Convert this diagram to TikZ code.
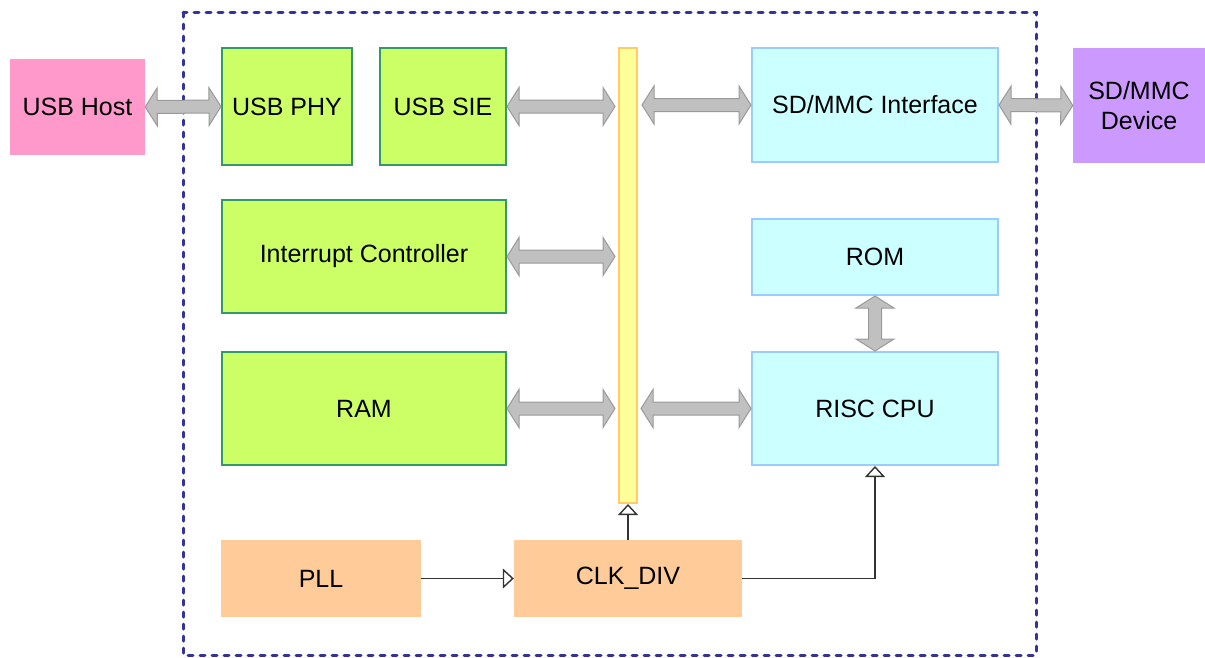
\documentclass[tikz,border=0pt]{standalone}
\usepackage{fontspec}
\setmainfont{Liberation Sans}
\usetikzlibrary{calc,arrows.meta}
\definecolor{hostpink}{HTML}{FF99CC}
\definecolor{devpurple}{HTML}{CC99FF}
\definecolor{gfill}{HTML}{CCFF66}
\definecolor{gline}{HTML}{339966}
\definecolor{cfill}{HTML}{CCFFFF}
\definecolor{cline}{HTML}{99CCFF}
\definecolor{ofill}{HTML}{FFCC99}
\definecolor{busfill}{HTML}{FFFF99}
\definecolor{busline}{HTML}{FFCC66}
\definecolor{afill}{HTML}{C0C0C0}
\definecolor{aline}{HTML}{9A9A9A}
\definecolor{frame}{HTML}{333399}
\tikzset{
  every node/.style={font=\fontsize{25}{30}\selectfont, inner sep=0pt},
  plainbox/.style={rectangle},
  hostbox/.style={plainbox, fill=hostpink},
  devbox/.style={plainbox, fill=devpurple},
  gbox/.style={plainbox, fill=gfill, draw=gline, line width=2pt},
  cbox/.style={plainbox, fill=cfill, draw=cline, line width=2pt},
  obox/.style={plainbox, fill=ofill},
  busbox/.style={plainbox, fill=busfill, draw=busline, line width=2pt},
  fat/.style={fill=afill, draw=aline, line width=1pt, line join=miter},
  clkline/.style={draw=black!80, line width=1.4pt,
    -{Triangle[open, width=20pt, length=11pt, line width=1.4pt]}},
  outline/.style={draw=frame, line width=3pt, line cap=round, dash pattern=on 5pt off 7pt}
}
\newcommand\fatarrow[2]{%
  \path[fat] (#1)
    -- ($(#1)!12pt!(#2)!19pt!90:(#2)$)
    -- ($(#1)!12pt!(#2)!6.5pt!90:(#2)$)
    -- ($(#2)!12pt!(#1)!6.5pt!-90:(#1)$)
    -- ($(#2)!12pt!(#1)!19pt!-90:(#1)$)
    -- (#2)
    -- ($(#2)!12pt!(#1)!19pt!90:(#1)$)
    -- ($(#2)!12pt!(#1)!6.5pt!90:(#1)$)
    -- ($(#1)!12pt!(#2)!6.5pt!-90:(#2)$)
    -- ($(#1)!12pt!(#2)!19pt!-90:(#2)$)
    -- cycle;}
\begin{document}
\begin{tikzpicture}[x=1pt,y=-1pt]
\useasboundingbox (0,0) rectangle (1205,657);
% frame
\path[outline] (183,12) rectangle (1036,655);
% nodes
\node[hostbox, minimum width=135, minimum height=96] (host) at (77.5,107) {USB Host};
\node[gbox, minimum width=130, minimum height=117] (phy) at (287,106.5) {USB PHY};
\node[gbox, minimum width=126, minimum height=117] (sie) at (443,106.5) {USB SIE};
\node[busbox, minimum width=18, minimum height=455] (bus) at (628,275.5) {};
\node[cbox, minimum width=246, minimum height=114] (sdif) at (875,105) {SD/MMC Interface};
\node[devbox, minimum width=132, minimum height=115, align=center] (dev) at (1139,105.5) {SD/MMC\\Device};
\node[gbox, minimum width=284, minimum height=113] (irq) at (364,256.5) {Interrupt Controller};
\node[cbox, minimum width=246, minimum height=76] (rom) at (875,257) {ROM};
\node[gbox, minimum width=284, minimum height=113] (ram) at (364,408.5) {RAM};
\node[cbox, minimum width=246, minimum height=113] (cpu) at (875,408.5) {RISC CPU};
\node[obox, minimum width=200, minimum height=77] (pll) at (321,578.5) {PLL};
\node[obox, minimum width=228, minimum height=77] (clk) at (628,578.5) {CLK\_DIV};
% helper coordinates at the bus
\path (bus.west |- sie.east) ++(-3,0) coordinate (b1);
\path (bus.east |- sdif.west) ++(4,0) coordinate (b2);
\path (bus.west |- irq.east) ++(-3,0) coordinate (b3);
\path (bus.west |- ram.east) ++(-3,0) coordinate (b4);
\path (bus.east |- cpu.west) ++(3,0) coordinate (b5);
% fat arrows
\fatarrow{host.east}{phy.west}
\fatarrow{sie.east}{b1}
\fatarrow{b2}{sdif.west}
\fatarrow{sdif.east}{dev.west}
\fatarrow{irq.east}{b3}
\fatarrow{ram.east}{b4}
\fatarrow{b5}{cpu.west}
\fatarrow{rom.south}{cpu.north}
% clock lines
\draw[clkline] (pll.east) -- (clk.west);
\draw[clkline] (clk.north) -- (bus.south);
\coordinate (turn) at (cpu.south |- clk.east);
\draw[clkline] (clk.east) -- (turn) -- (cpu.south);
\end{tikzpicture}
\end{document}
